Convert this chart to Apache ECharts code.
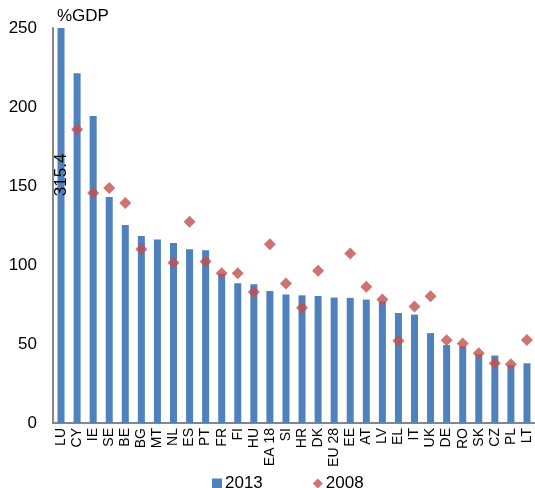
<!DOCTYPE html>
<html><head><meta charset="utf-8">
<script src="https://cdn.jsdelivr.net/npm/echarts@6/dist/echarts.min.js"></script>
<style>html,body{margin:0;padding:0;background:#fff}#c{width:535px;height:488px}</style>
</head><body><div id="c"></div>
<script>
const categories = ['LU','CY','IE','SE','BE','BG','MT','NL','ES','PT','FR','FI','HU','EA 18','SI','HR','DK','EU 28','EE','AT','LV','EL','IT','UK','DE','RO','SK','CZ','PL','LT'];
const values2013 = [315.4,221.4,194.3,143.0,125.3,118.3,116.2,114.0,110.0,109.4,94.5,88.4,87.8,83.6,81.3,80.8,80.4,79.4,79.2,78.1,77.0,69.6,68.6,56.9,49.3,48.6,43.4,42.7,36.6,37.8];
const values2008 = [null,185.8,145.6,148.8,139.2,110.0,null,101.4,127.4,102.2,94.8,94.8,82.9,113.2,88.3,73.0,96.3,null,107.3,86.3,78.1,52.1,73.8,80.2,52.3,50.3,44.2,37.8,37.2,52.6];
const yTicks = [0,50,100,150,200,250];
const font = 'Liberation Sans, Arial, sans-serif';
const chart = echarts.init(document.getElementById('c'));
chart.setOption({
  animation: false,
  textStyle: {fontFamily: font},
  grid: {left: 53, right: 0, top: 28, bottom: 65},
  legend: {
    top: 470, left: 207, itemGap: 50, itemWidth: 10, itemHeight: 10,
    textStyle: {fontSize: 17, color: '#000', fontFamily: font, padding: [0,0,0,-2]},
    data: [{name: '2013', icon: 'rect'}, {name: '2008', icon: 'diamond'}]
  },
  xAxis: {
    type: 'category', data: categories,
    axisLine: {lineStyle: {color: '#868686', width: 2}},
    axisTick: {show: false},
    axisLabel: {rotate: 90, interval: 0, color: '#000', fontSize: 14, margin: 5, fontFamily: font}
  },
  yAxis: {
    type: 'value', min: yTicks[0], max: yTicks[yTicks.length-1], interval: 50,
    name: '%GDP', nameLocation: 'end', nameGap: 3,
    nameTextStyle: {fontSize: 17, color: '#000', align: 'left', padding: [0,0,0,4], fontFamily: font},
    axisLine: {show: true, lineStyle: {color: '#868686', width: 2}},
    axisTick: {show: false},
    splitLine: {show: false},
    axisLabel: {color: '#000', fontSize: 17, margin: 16, fontFamily: font}
  },
  series: [
    {
      name: '2013', type: 'bar', data: values2013, barWidth: 7, clip: true,
      itemStyle: {color: '#4F81BD'},
      markPoint: {
        symbol: 'circle', symbolSize: 0,
        data: [{coord: [categories[0], 157], value: values2013[0]}],
        label: {show: true, position: 'inside', rotate: 90, color: '#000', fontSize: 17, fontFamily: font,
          formatter: p => String(p.value)}
      }
    },
    {
      name: '2008', type: 'scatter', data: values2008, symbol: 'diamond', symbolSize: 12,
      itemStyle: {color: '#C0504D'}
    }
  ]
});
</script></body></html>
